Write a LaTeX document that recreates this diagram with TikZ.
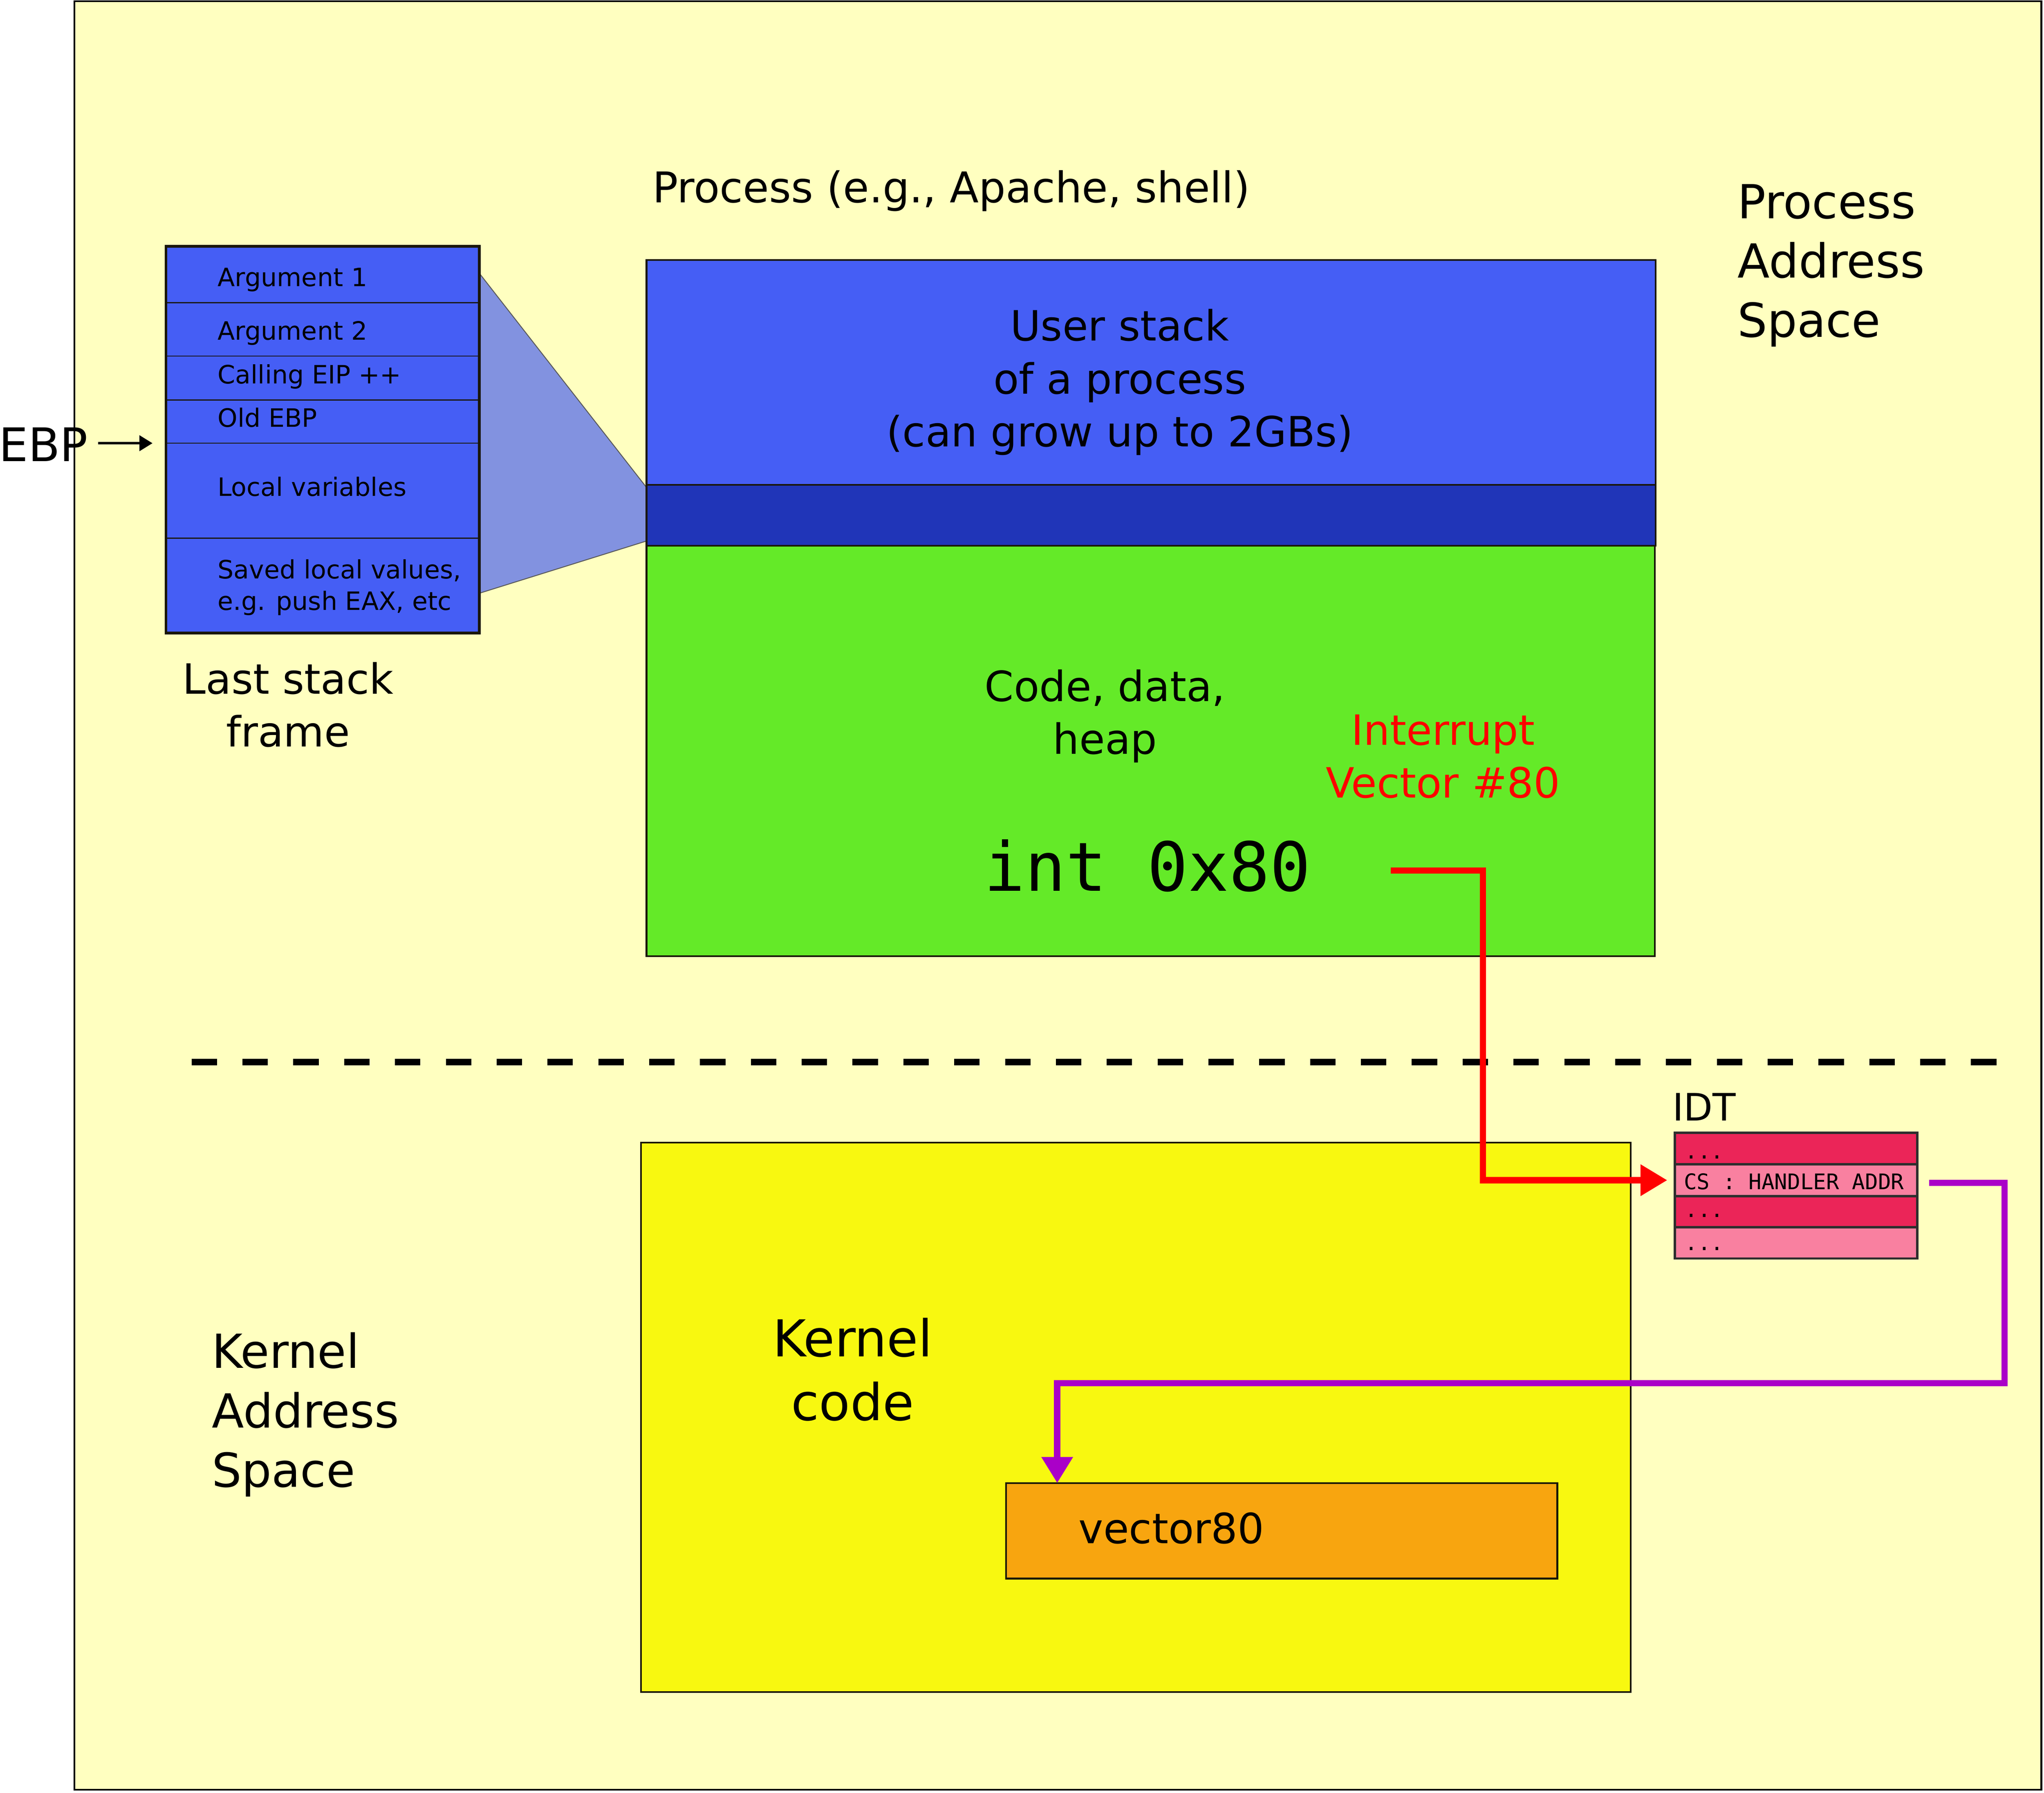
\documentclass[tikz,border=0pt]{standalone}
\usepackage{fontspec}
\setmainfont{DejaVu Sans}
\newfontfamily\monofont{DejaVu Sans Mono}
\usetikzlibrary{arrows.meta}
\definecolor{bgyellow}{HTML}{FFFFC0}
\definecolor{stackblue}{HTML}{455EF5}
\definecolor{bandblue}{HTML}{2035B8}
\definecolor{heapgreen}{HTML}{64EA28}
\definecolor{kernyellow}{HTML}{F8F810}
\definecolor{vecorange}{HTML}{F8A50F}
\definecolor{idtdark}{HTML}{EB2558}
\definecolor{idtlight}{HTML}{F980A0}
\definecolor{trapblue}{HTML}{8292E0}
\definecolor{edgec}{HTML}{1A1708}
\definecolor{idtedge}{HTML}{2E2E2E}
\definecolor{arrred}{HTML}{FF0000}
\definecolor{arrpurple}{HTML}{AA00C8}
\newcommand\szA{\fontsize{32}{40.5}\selectfont}
\newcommand\szP{\fontsize{32.5}{40.5}\selectfont}
\newcommand\szB{\fontsize{36}{45.5}\selectfont}
\newcommand\szC{\fontsize{39}{49}\selectfont}
\newcommand\szS{\fontsize{19.4}{24.2}\selectfont}
\newcommand\szEBP{\fontsize{35.5}{44}\selectfont}
\newcommand\szIDT{\fontsize{29}{36}\selectfont}
\newcommand\szInt{\monofont\fontsize{52}{60}\selectfont}
\newcommand\szTab{\monofont\fontsize{16.5}{20}\selectfont}
\tikzset{
  boxst/.style={draw=edgec, line width=1.4pt, inner sep=0pt, outer sep=0pt, anchor=north west},
  idtrow/.style={draw=idtedge, line width=1.8pt, inner sep=0pt, outer sep=0pt, anchor=north west, minimum width=186pt},
  txt/.style={inner sep=0pt, outer sep=0pt},
  redarrow/.style={draw=arrred, line width=4.8pt, -{Triangle[length=20.5pt,width=23pt]}},
  purplearrow/.style={draw=arrpurple, line width=4.8pt, -{Triangle[length=20pt,width=23pt]}},
}
\begin{document}
\begin{tikzpicture}[x=1pt,y=-1pt]
\useasboundingbox (0,0) rectangle (1568,1375.4);
% outer frame
\node[boxst, draw=black, fill=bgyellow, minimum width=1509pt, minimum height=1372pt] (frame) at (57,1) {};
% trapezoid
\draw[draw=black!65, line width=0.7pt, fill=trapblue] (368,210) -- (496,374) -- (496,415) -- (368,455) -- cycle;
% stack frame
\node[boxst, line width=2pt, fill=stackblue, minimum width=240.3pt, minimum height=296.7pt] (stack) at (127.4,188.9) {};
\foreach \yy in {232.3,273.2,306.9,339.9,412.9}
  \draw[edgec, line width=0.8pt] (stack.west |- 0,\yy) -- (stack.east |- 0,\yy);
\node[txt, font=\szS, anchor=base west] (arg1) at (167,219.8) {Argument 1};
\node[txt, font=\szS, anchor=base west] (arg2) at (167,260.6) {Argument 2};
\node[txt, font=\szS, anchor=base west] (ceip) at (167,294.3) {Calling EIP ++};
\node[txt, font=\szS, anchor=base west] (oebp) at (167,327.4) {Old EBP};
\node[txt, font=\szS, anchor=base west] (lvar) at (167,380.6) {Local variables};
\node[txt, font=\szS, anchor=base west, align=left] (saved) at (167,468) {Saved local values,\\e.g. push EAX, etc};
% EBP
\node[txt, font=\szEBP, anchor=base east] (ebp) at (67.4,353.8) {EBP};
\coordinate (ebpmark) at (127.4,340);
\draw[line width=2pt, -{Triangle[length=10pt,width=11.7pt]}, shorten <=8pt, shorten >=10.4pt] (ebp.east |- ebpmark) -- (ebpmark);
\node[txt, font=\szA, anchor=base, align=center] (lsf) at (221,572.7) {Last stack\\frame};
% process boxes
\node[boxst, fill=stackblue, minimum width=774.1pt, minimum height=172.5pt] (ustack) at (495.9,199.5) {};
\node[boxst, fill=bandblue, minimum width=774.1pt, minimum height=46.7pt] (band) at (495.9,372) {};
\node[boxst, fill=heapgreen, minimum width=773.6pt, minimum height=314.8pt] (heap) at (495.9,418.7) {};
\node[txt, font=\szA, anchor=base, align=center] (ustxt) at (859,342.5) {User stack\\of a process\\(can grow up to 2GBs)};
\node[txt, font=\szP, anchor=base west] (proc) at (500.5,155.5) {Process (e.g., Apache, shell)};
\node[txt, font=\szB, anchor=base west, align=left] (pas) at (1333,258.6) {Process\\Address\\Space};
\node[txt, font=\szA, anchor=base, align=center] (cdh) at (847.7,578.5) {Code, data,\\heap};
\node[txt, font=\szA, anchor=base, align=center, text=arrred] (ivec) at (1107,612) {Interrupt\\Vector \#80};
\node[txt, font=\szInt, anchor=base west] (int) at (755,683.4) {int 0x80};
% separator
\draw[line width=4.9pt, dash pattern=on 19.5pt off 19.5pt] (147,814.8) -- (1533,814.8);
% kernel
\node[boxst, fill=kernyellow, minimum width=759.1pt, minimum height=421.5pt] (kern) at (491.8,876.5) {};
\node[txt, font=\szC, anchor=base, align=center] (kcode) at (654,1089.6) {Kernel\\code};
\node[txt, font=\szB, anchor=base west, align=left] (kas) at (162.7,1140.6) {Kernel\\Address\\Space};
\node[boxst, fill=vecorange, minimum width=422.8pt, minimum height=73.3pt] (vec) at (771.8,1137.7) {};
\node[txt, font=\szA, anchor=base west] (vectxt) at (827.5,1184) {vector80};
% IDT
\node[txt, font=\szIDT, anchor=base west] (idtlbl) at (1283,859.6) {IDT};
\node[idtrow, fill=idtdark, minimum height=24.2pt] (idt1) at (1284.8,869) {};
\node[idtrow, fill=idtlight, minimum height=24.3pt] (idt2) at (1284.8,893.2) {};
\node[idtrow, fill=idtdark, minimum height=23.8pt] (idt3) at (1284.8,917.5) {};
\node[idtrow, fill=idtlight, minimum height=24.1pt] (idt4) at (1284.8,941.3) {};
\node[txt, font=\szTab, anchor=base west] (t1) at (1292.5,889) {...};
\node[txt, font=\szTab, anchor=base west] (t2) at (1291.7,912.3) {CS : HANDLER ADDR};
\node[txt, font=\szTab, anchor=base west] (t3) at (1292.5,933.7) {...};
\node[txt, font=\szTab, anchor=base west] (t4) at (1292.5,959) {...};
% red arrow int 0x80 -> IDT
\coordinate (redstart) at (1067,667.7);
\draw[redarrow, shorten >=5.8pt] (redstart) -- ++(70.5,0) |- (idt2.west);
% purple arrow IDT -> vector80
\coordinate (pstart) at (1480,907.4);
\coordinate (pturn) at (1537.8,1061);
\coordinate (vecin) at (811,1137.7);
\draw[purplearrow] (pstart) -| (pturn) -| (vecin);
\end{tikzpicture}
\end{document}
